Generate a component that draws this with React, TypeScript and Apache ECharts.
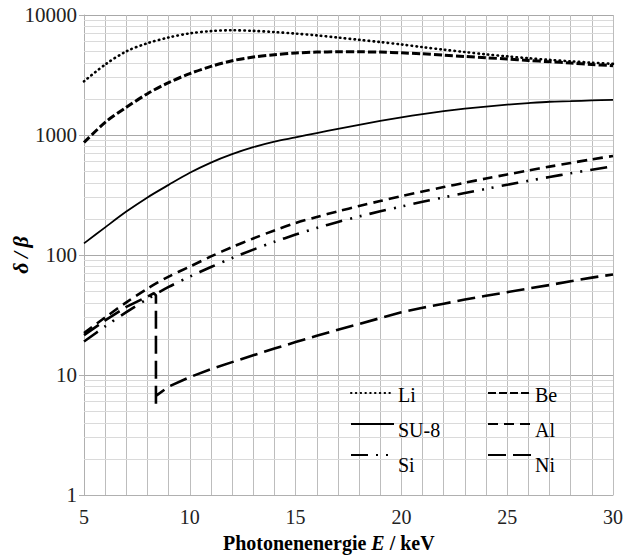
import React, { useEffect, useRef } from "react";
import * as echarts from "echarts";

// Photon energy (keV)
const energies = [5, 6, 7, 8, 9, 10, 11, 12, 13, 14, 15, 16, 17, 18, 19, 20, 21, 22, 23, 24, 25, 26, 27, 28, 29, 30];

// delta/beta values per material
const li = [2800, 3864, 4977, 5821, 6501, 7031, 7345, 7464, 7379, 7211, 6998, 6761, 6486, 6209, 5950, 5680, 5395, 5140, 4909, 4699, 4519, 4365, 4227, 4111, 4009, 3917];
const be = [865, 1275, 1700, 2210, 2735, 3250, 3730, 4160, 4460, 4660, 4820, 4910, 4930, 4930, 4910, 4840, 4750, 4630, 4510, 4400, 4300, 4180, 4080, 3980, 3870, 3780];
const su8 = [125, 170, 230, 302, 384, 484, 589, 692, 791, 881, 955, 1038, 1125, 1216, 1309, 1403, 1493, 1578, 1656, 1726, 1791, 1845, 1892, 1914, 1941, 1959];
const al = [22.4, 30.2, 40.3, 52.5, 66.1, 80, 97.3, 116.4, 137.4, 160.3, 184.9, 207.5, 231.2, 255.9, 281.8, 309.7, 338, 368, 400, 434, 469, 506, 545, 585, 627, 668];
const si = [19, 25.4, 33.4, 43, 54.2, 66, 79.4, 94.4, 110.9, 128.8, 147.9, 167.9, 188.4, 209.4, 231.2, 253.5, 277.3, 302, 328, 355.6, 384.6, 415, 446.7, 479.7, 514, 549.5];

// Ni has its K absorption edge, so it has its own energy list
const niEnergies = [5, 6, 7, 8, 8.3, 8.4, 8.4, 8.4, 9, 10, 11, 12, 13, 14, 15, 16, 17, 18, 19, 20, 21, 22, 23, 24, 25, 26, 27, 28, 29, 30];
const ni = [21.5, 28.5, 37, 45, 48, 46, 5.4, 6.7, 8.0, 9.6, 11.2, 12.8, 14.6, 16.6, 18.8, 21.2, 23.8, 26.6, 29.8, 33.3, 36.3, 39.3, 42.5, 45.8, 49, 52.6, 56.2, 60.5, 64.8, 68.8];

// Axis ticks
const xTickLabels = [5, 10, 15, 20, 25, 30];
const yTickLabels = [1, 10, 100, 1000, 10000];
const yDecades = [1, 10, 100, 1000];
const yMinorMultipliers = [2, 3, 4, 5, 6, 7, 8, 9];

const legendLeft = ["Li", "SU-8", "Si"];
const legendRight = ["Be", "Al", "Ni"];

const SERIF = "Liberation Serif";

export default function App() {
  const ref = useRef<HTMLDivElement>(null);

  useEffect(() => {
    document.body.style.margin = "0";
    if (!ref.current) return;
    const chart = echarts.init(ref.current, undefined, { renderer: "svg" });

    const mk = (name: string, xs: number[], ys: number[], width: number, dash: any, cap: string, smooth: boolean) => ({
      type: "line",
      name,
      data: xs.map((e, i) => [e, ys[i]]),
      showSymbol: false,
      symbol: "none",
      smooth: smooth ? 0.3 : false,
      silent: true,
      z: 3,
      itemStyle: { color: "#000", opacity: 0 },
      lineStyle: { color: "#000", width, type: dash, cap },
    });

    const minorLines: any[] = [];
    yDecades.forEach((d) => yMinorMultipliers.forEach((m) => minorLines.push({ yAxis: d * m })));

    const legendTop = 385;
    const legendItemH = 20;
    const legendGap = 15;
    const legendIconW = 43;
    const legendCols = [
      { names: legendLeft, left: 350 },
      { names: legendRight, left: 487 },
    ];

    const option: any = {
      animation: false,
      backgroundColor: "#fff",
      grid: { left: 84, right: 10, top: 15, bottom: 64, containLabel: false },
      xAxis: {
        type: "value",
        min: 5,
        max: 30,
        interval: 1,
        axisLine: { show: true, lineStyle: { color: "#b0b0b0", width: 1 } },
        axisTick: { show: false },
        splitLine: { show: true, lineStyle: { color: "#bdbdbd", width: 1 } },
        axisLabel: { show: false },
      },
      yAxis: {
        type: "log",
        logBase: 10,
        min: 1,
        max: 10000,
        axisLine: { show: true, lineStyle: { color: "#b0b0b0", width: 1 } },
        axisTick: { show: true, length: 5, lineStyle: { color: "#b0b0b0" } },
        splitLine: { show: true, lineStyle: { color: "#a8a8a8", width: 1 } },
        axisLabel: { show: false },
      },
      legend: legendCols.map((c) => ({
        data: c.names,
        orient: "vertical",
        left: c.left,
        top: legendTop,
        padding: 0,
        z: 10,
        itemWidth: legendIconW,
        itemHeight: legendItemH,
        itemGap: legendGap,
        selectedMode: false,
        itemStyle: { opacity: 0 },
        formatter: () => "",
        textStyle: { fontSize: 1, lineHeight: legendItemH },
      })),
      series: [
        {
          type: "line",
          name: "_minor",
          data: [],
          silent: true,
          z: 1,
          markLine: {
            silent: true,
            z: 1,
            symbol: ["none", "none"],
            label: { show: false },
            emphasis: { disabled: true },
            lineStyle: { color: "#dadada", width: 1, type: "solid" },
            data: minorLines,
          },
        },
        mk("Li", energies, li, 2.6, [0.5, 4.3], "round", true),
        mk("Be", energies, be, 3, [8, 3], "butt", true),
        mk("SU-8", energies, su8, 1.8, "solid", "butt", true),
        mk("Al", energies, al, 2.6, [10, 6], "butt", true),
        mk("Si", energies, si, 2.6, [17, 8, 2, 8, 2, 8], "butt", true),
        mk("Ni", niEnergies, ni, 2.6, [18, 7], "butt", false),
      ],
    };

    chart.setOption(option);

    // Texts drawn as graphic elements (positions from the chart's own scales)
    const toPx = (x: number, y: number) => chart.convertToPixel({ gridIndex: 0 }, [x, y]) as number[];
    const graphics: any[] = [];

    xTickLabels.forEach((v) => {
      const [px, py] = toPx(v, 1);
      graphics.push({
        type: "text",
        z: 20,
        x: px,
        y: py + 22,
        style: { text: String(v), font: '20px "Liberation Serif", serif', fill: "#222", align: "center", verticalAlign: "middle" },
      });
    });
    yTickLabels.forEach((v) => {
      const [px, py] = toPx(5, v);
      graphics.push({
        type: "text",
        z: 20,
        x: px - 7,
        y: py,
        style: { text: String(v), font: '21px "Liberation Serif", serif', fill: "#222", align: "right", verticalAlign: "middle" },
      });
    });
    legendCols.forEach((c) => {
      c.names.forEach((n, i) => {
        graphics.push({
          type: "text",
          z: 20,
          x: c.left + legendIconW + 5,
          y: legendTop + legendItemH / 2 + i * (legendItemH + legendGap),
          style: { text: n, font: '20px "Liberation Serif", serif', fill: "#000", align: "left", verticalAlign: "middle" },
        });
      });
    });

    graphics.push({
      type: "text",
      z: 20,
      left: 223,
      top: 533,
      style: {
        text: "{b|Photonenenergie }{i|E}{b| / keV}",
        rich: {
          b: { fontFamily: SERIF, fontWeight: "bold", fontSize: 20, fill: "#000" },
          i: { fontFamily: SERIF, fontWeight: "bold", fontStyle: "italic", fontSize: 20, fill: "#000" },
        },
      },
    });
    graphics.push({
      type: "text",
      z: 20,
      x: 20,
      y: 255,
      rotation: Math.PI / 2,
      style: {
        text: "δ\u2009/\u2009β",
        fontFamily: SERIF,
        fontWeight: "bold",
        fontStyle: "italic",
        fontSize: 22,
        fill: "#000",
        align: "center",
        verticalAlign: "middle",
      },
    });

    chart.setOption({ graphic: graphics });
    return () => chart.dispose();
  }, []);

  return <div ref={ref} style={{ width: 623, height: 559 }} />;
}
